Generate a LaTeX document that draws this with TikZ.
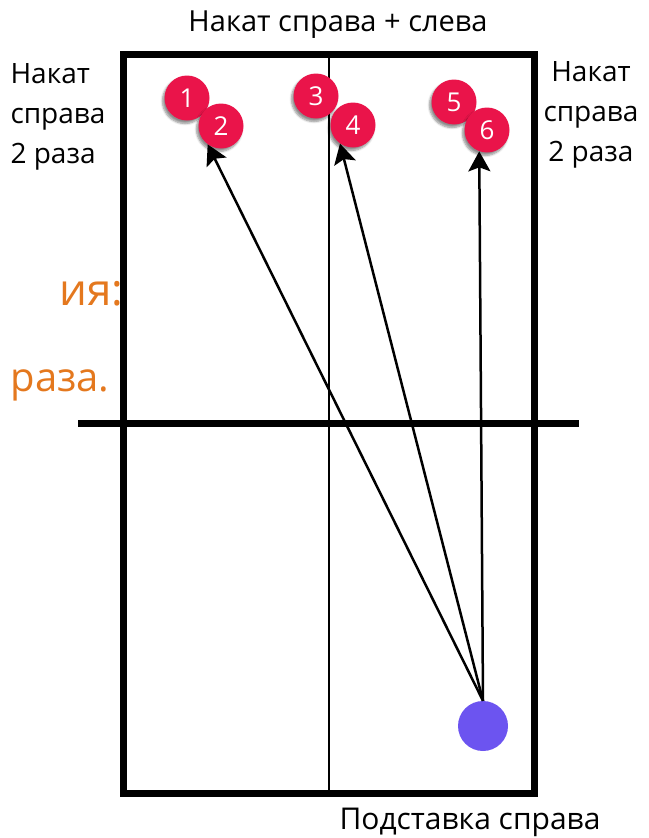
\documentclass[tikz,border=0pt]{standalone}
\usepackage{fontspec}
\setmainfont{Open Sans}
\usepackage{xcolor}
\usetikzlibrary{arrows.meta, shadows.blur}
\definecolor{ballred}{RGB}{234,20,74}
\definecolor{ballpurple}{RGB}{108,84,240}
\definecolor{slideorange}{RGB}{228,120,30}

\begin{document}
\begin{tikzpicture}[
    x=1pt, y=-1pt,
    ball/.style={
        circle,
        fill=ballred,
        minimum size=45pt,
        inner sep=0pt,
        text=white,
        font=\fontsize{26}{26}\selectfont,
        blur shadow={shadow xshift=-2pt, shadow yshift=-3pt, shadow blur steps=6, shadow opacity=45}
    },
    label/.style={align=center, font=\fontsize{28}{40}\selectfont},
    slide/.style={anchor=east, text=slideorange},
    edge/.style={line width=7pt},
    shot/.style={-{Stealth[length=20pt, width=22pt, inset=4pt]}, line width=2.5pt}
]
\useasboundingbox (0,0) rectangle (648,838);

\draw[edge] (123.5,54) rectangle (534.5,793.5);
\draw[line width=1.5pt] (329,54) -- (329,793.5);
\draw[edge] (78,423.5) -- (579,423.5);

\node[label, font=\fontsize{29}{29}\selectfont] (top) at (338,25) {Накат справа + слева};
\node[label, align=left, anchor=west] (left) at (7,117) {Накат\\справа\\2 раза};
\node[label] (right) at (591,115) {Накат\\справа\\2 раза};
\node[label, font=\fontsize{30}{30}\selectfont] (bottom) at (470,822) {Подставка справа};

\node[slide, font=\fontsize{44}{44}\selectfont] (tail) at (127,294) {ия:};
\node[slide, font=\fontsize{40}{40}\selectfont] (tail2) at (113,385) {раза.};

\node[circle, fill=ballpurple, minimum size=50pt, inner sep=0pt] (podstavka) at (483,726) {};

\node[ball] (b1) at (187,98) {1};
\node[ball] (b2) at (221,126) {2};
\node[ball] (b3) at (316,96) {3};
\node[ball] (b4) at (353,125) {4};
\node[ball] (b5) at (454,102) {5};
\node[ball] (b6) at (487,130) {6};

\draw[shot] (podstavka.north) -- (b2.234);
\draw[shot] (podstavka.north) -- (b4.235);
\draw[shot] (podstavka.north) -- (b6.250);

\end{tikzpicture}
\end{document}
